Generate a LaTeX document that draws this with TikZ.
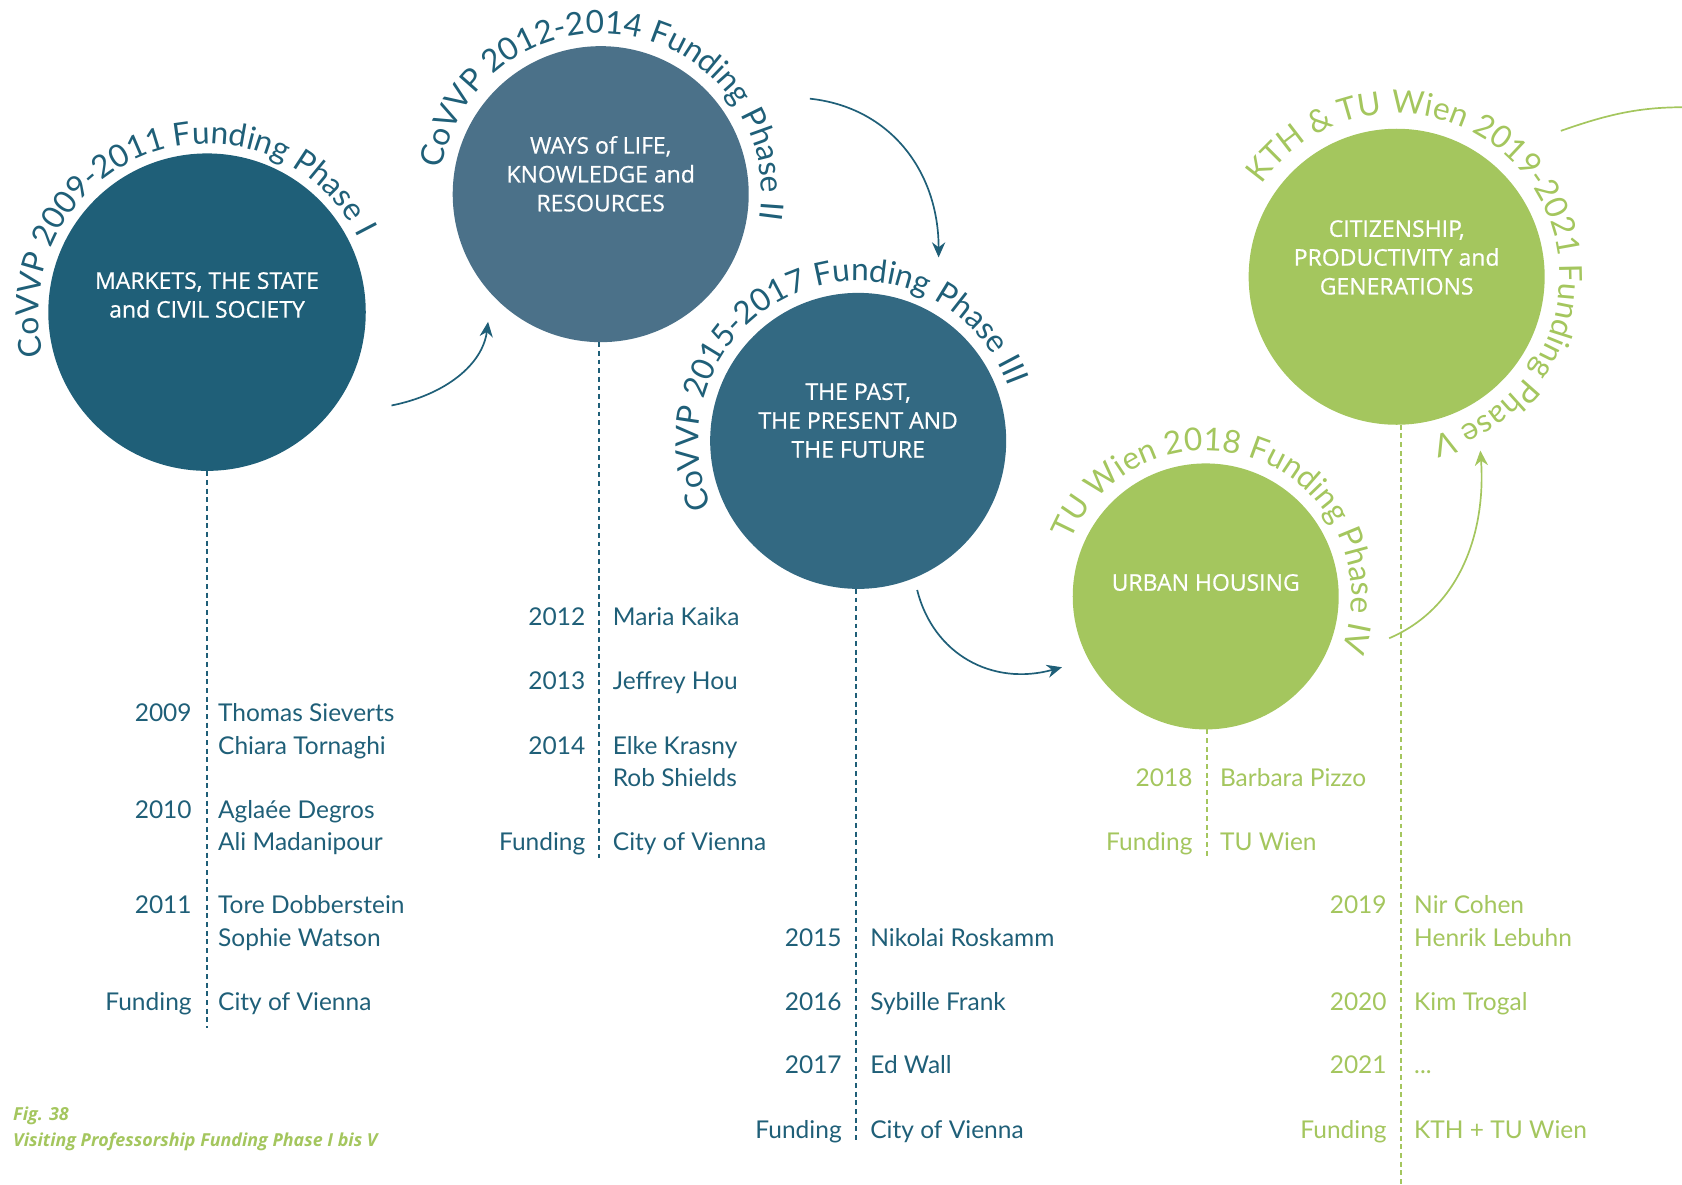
\documentclass[tikz,border=0pt]{standalone}
\usepackage{fontspec}
\setmainfont{Lato}
\newfontfamily\titlefont[FakeBold=0.6]{Open Sans}
\newfontfamily\capfont{Open Sans}
\usetikzlibrary{decorations.text,arrows.meta}

\definecolor{tealI}{HTML}{1F5F78}
\definecolor{tealII}{HTML}{4B7189}
\definecolor{tealIII}{HTML}{336982}
\definecolor{lime}{HTML}{A4C65E}

\newcommand\arcfont{\fontsize{16.8}{18}\selectfont}

\tikzset{
  phase/.style={circle, inner sep=0pt, fill=#1},
  title/.style={text=white, align=center, inner sep=0pt,
    font=\titlefont\fontsize{12.2}{15.3}\selectfont},
  year/.style={anchor=base east, inner sep=0pt, font=\fontsize{13}{15}\selectfont},
  who/.style={anchor=base west, inner sep=0pt, font=\fontsize{13}{15}\selectfont},
  timeline/.style={dash pattern=on 2.6pt off 2pt, line width=1.1pt},
  hop/.style={line width=0.9pt, -{Stealth[length=8pt,width=7pt]}},
  arctext/.style={decorate, decoration={text along path, text align=center, text={#1}}}
}

\begin{document}
\begin{tikzpicture}[x=0.02cm, y=0.02cm]
  \useasboundingbox (0,0) rectangle (1568,-1104);

  % circles
  \node[phase=tealI, minimum size=5.92cm] (p1) at (193,-291) {};
  \node[phase=tealII, minimum size=5.52cm] (p2) at (560,-181) {};
  \node[phase=tealIII, minimum size=5.52cm] (p3) at (800,-411) {};
  \node[phase=lime, minimum size=4.96cm] (p4) at (1124,-556) {};
  \node[phase=lime, minimum size=5.52cm] (p5) at (1302,-258) {};

  \node[title] (t1) at (193,-275) {MARKETS, THE STATE\\and CIVIL SOCIETY};
  \node[title] (t2) at (560,-162) {WAYS of LIFE,\\KNOWLEDGE and\\RESOURCES};
  \node[title] (t3) at (800,-392) {THE PAST,\\THE PRESENT AND\\THE FUTURE};
  \node[title] (t4) at (1124,-543) {URBAN HOUSING};
  \node[title] (t5) at (1302,-240) {CITIZENSHIP,\\PRODUCTIVITY and\\GENERATIONS};

  % texts round the circles (centred on the middle of a long arc)
  \path[arctext={|\arcfont\color{tealI}|CoVVP 2009-2011 Funding Phase I}]
    (p1) ++(260:157) arc[start angle=260, end angle=-39, radius=157];
  \path[arctext={|\arcfont\color{tealI}|CoVVP 2012-2014 Funding Phase II}]
    (p2) ++(231:150) arc[start angle=231, end angle=-69, radius=150];
  \path[arctext={|\arcfont\color{tealI}|CoVVP 2015-2017 Funding Phase III}]
    (p3) ++(262:149) arc[start angle=262, end angle=-38, radius=149];
  \path[arctext={|\arcfont\color{lime}|TU Wien 2018 Funding Phase IV}]
    (p4) ++(218:136) arc[start angle=218, end angle=-82, radius=136];
  \path[arctext={|\arcfont\color{lime}|KTH {\&} TU Wien 2019-2021 Funding Phase V}]
    (p5) ++(184:152) arc[start angle=184, end angle=-116, radius=152];

  % arrows between phases
  \coordinate (a1s) at (365,-378);
  \coordinate (a1e) at (455,-300);
  \coordinate (a2s) at (755,-92);
  \coordinate (a2e) at (875,-240);
  \coordinate (a3s) at (855,-550);
  \coordinate (a3e) at (990,-622);
  \coordinate (a4s) at (1295,-595);
  \coordinate (a4e) at (1380,-420);
  \coordinate (a5s) at (1455,-122);
  \coordinate (a5e) at (1568,-100);
  \draw[hop, tealI] (a1s) .. controls (415,-368) and (450,-340) .. (a1e);
  \draw[hop, tealI] (a2s) .. controls (830,-100) and (875,-160) .. (a2e);
  \draw[hop, tealI] (a3s) .. controls (870,-610) and (925,-640) .. (a3e);
  \draw[hop, lime] (a4s) .. controls (1365,-565) and (1385,-490) .. (a4e);
  \draw[line width=0.9pt, lime] (a5s) .. controls (1495,-108) and (1525,-100) .. (a5e);

  % time lines
  \coordinate (e1) at (193,-958);
  \coordinate (e2) at (558,-800);
  \coordinate (e3) at (798,-1065);
  \coordinate (e4) at (1125,-800);
  \coordinate (e5) at (1306,-1104);
  \draw[timeline, tealI] (p1.south) -- (e1);
  \draw[timeline, tealI] (558,-319) -- (e2);
  \draw[timeline, tealI] (798,-549) -- (e3);
  \draw[timeline, lime] (1125,-680) -- (e4);
  \draw[timeline, lime] (1306,-396) -- (e5);

  % phase I
  \begin{scope}[tealI]
    \node[year] (y09) at (179,-673) {2009};
    \node[who] (n09a) at (203,-673) {Thomas Sieverts};
    \node[who] (n09b) at (203,-703) {Chiara Tornaghi};
    \node[year] (y10) at (179,-763) {2010};
    \node[who] (n10a) at (203,-763) {Aglaée Degros};
    \node[who] (n10b) at (203,-793) {Ali Madanipour};
    \node[year] (y11) at (179,-852) {2011};
    \node[who] (n11a) at (203,-852) {Tore Dobberstein};
    \node[who] (n11b) at (203,-882) {Sophie Watson};
    \node[year] (f1) at (179,-942) {Funding};
    \node[who] (g1) at (203,-942) {City of Vienna};
  \end{scope}

  % phase II
  \begin{scope}[tealI]
    \node[year] (y12) at (546,-583) {2012};
    \node[who] (n12) at (571,-583) {Maria Kaika};
    \node[year] (y13) at (546,-643) {2013};
    \node[who] (n13) at (571,-643) {Jeffrey Hou};
    \node[year] (y14) at (546,-703) {2014};
    \node[who] (n14a) at (571,-703) {Elke Krasny};
    \node[who] (n14b) at (571,-733) {Rob Shields};
    \node[year] (f2) at (546,-793) {Funding};
    \node[who] (g2) at (571,-793) {City of Vienna};
  \end{scope}

  % phase III
  \begin{scope}[tealI]
    \node[year] (y15) at (785,-882) {2015};
    \node[who] (n15) at (811,-882) {Nikolai Roskamm};
    \node[year] (y16) at (785,-942) {2016};
    \node[who] (n16) at (811,-942) {Sybille Frank};
    \node[year] (y17) at (785,-1001) {2017};
    \node[who] (n17) at (811,-1001) {Ed Wall};
    \node[year] (f3) at (785,-1061) {Funding};
    \node[who] (g3) at (811,-1061) {City of Vienna};
  \end{scope}

  % phase IV
  \begin{scope}[lime]
    \node[year] (y18) at (1112,-733) {2018};
    \node[who] (n18) at (1137,-733) {Barbara Pizzo};
    \node[year] (f4) at (1112,-793) {Funding};
    \node[who] (g4) at (1137,-793) {TU Wien};
  \end{scope}

  % phase V
  \begin{scope}[lime]
    \node[year] (y19) at (1293,-852) {2019};
    \node[who] (n19a) at (1318,-852) {Nir Cohen};
    \node[who] (n19b) at (1318,-882) {Henrik Lebuhn};
    \node[year] (y20) at (1293,-942) {2020};
    \node[who] (n20) at (1318,-942) {Kim Trogal};
    \node[year] (y21) at (1293,-1001) {2021};
    \node[who] (n21) at (1318,-1001) {...};
    \node[year] (f5) at (1293,-1061) {Funding};
    \node[who] (g5) at (1318,-1061) {KTH + TU Wien};
  \end{scope}

  % caption
  \node[anchor=base west, inner sep=0pt, lime, font=\capfont\itshape\bfseries\fontsize{9.5}{11}\selectfont] (fig) at (12,-1045) {Fig. 38};
  \node[anchor=base west, inner sep=0pt, lime, font=\capfont\itshape\bfseries\fontsize{9.5}{11}\selectfont] (cap) at (12,-1069) {Visiting Professorship Funding Phase I bis V};
\end{tikzpicture}
\end{document}
